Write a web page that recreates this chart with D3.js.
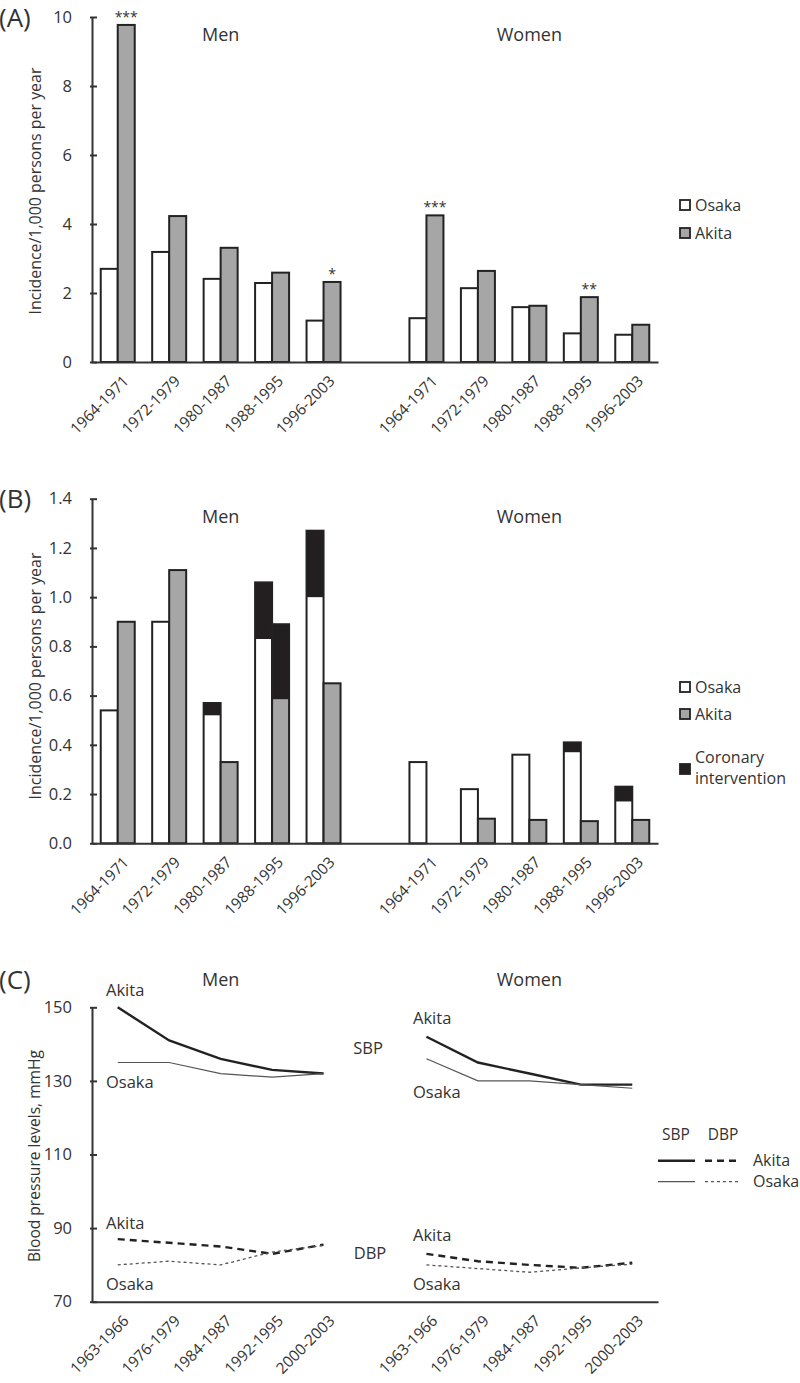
<!DOCTYPE html>
<html>
<head>
<meta charset="utf-8">
<script src="https://cdn.jsdelivr.net/npm/d3@7"></script>
<style>
  body { margin: 0; background: #fff; }
  svg { display: block; }
  text { font-family: "Open Sans", "DejaVu Sans", sans-serif; fill: #333; }
</style>
</head>
<body>
<svg id="chart" width="800" height="1383"></svg>
<script>
// ---------- DATA ----------
const periods = ["1964-1971", "1972-1979", "1980-1987", "1988-1995", "1996-2003"];
const bpPeriods = ["1963-1966", "1976-1979", "1984-1987", "1992-1995", "2000-2003"];

// Panel A: incidence / 1,000 persons per year
const aMenOsaka   = [2.70, 3.19, 2.41, 2.29, 1.20];
const aMenAkita   = [9.77, 4.23, 3.31, 2.59, 2.32];
const aWomenOsaka = [1.27, 2.14, 1.59, 0.83, 0.79];
const aWomenAkita = [4.25, 2.64, 1.63, 1.88, 1.08];
const aMenSig     = ["***", "", "", "", "*"];
const aWomenSig   = ["***", "", "", "**", ""];
const aTicks = [0, 2, 4, 6, 8, 10];

// Panel B: incidence (base) + coronary intervention (extra)
const bMenOsaka      = [0.54, 0.90, 0.52, 0.83, 1.00];
const bMenOsakaPCI   = [0.00, 0.00, 0.05, 0.23, 0.27];
const bMenAkita      = [0.90, 1.11, 0.33, 0.585, 0.65];
const bMenAkitaPCI   = [0.00, 0.00, 0.00, 0.305, 0.00];
const bWomenOsaka    = [0.33, 0.22, 0.36, 0.37, 0.17];
const bWomenOsakaPCI = [0.00, 0.00, 0.00, 0.04, 0.06];
const bWomenAkita    = [0.00, 0.10, 0.095, 0.09, 0.095];
const bWomenAkitaPCI = [0.00, 0.00, 0.00, 0.00, 0.00];
const bTicks = [0, 0.2, 0.4, 0.6, 0.8, 1.0, 1.2, 1.4];

// Panel C: blood pressure levels (mmHg)
const sbpMenAkita   = [150, 141, 136, 133, 132];
const sbpMenOsaka   = [135, 135, 132, 131, 132];
const sbpWomenAkita = [142, 135, 132, 129, 129];
const sbpWomenOsaka = [136, 130, 130, 129, 128];
const dbpMenAkita   = [87, 86, 85, 83, 85.5];
const dbpMenOsaka   = [80, 81, 80, 83.5, 85.3];
const dbpWomenAkita = [83, 81, 80, 79.2, 80.6];
const dbpWomenOsaka = [80, 79, 78, 79.2, 80.2];
const cTicks = [70, 90, 110, 130, 150];

// ---------- LAYOUT ----------
const svg = d3.select("#chart");
const AX = 92, AXR = 658;
const GRAY = "#a6a6a6", BLACK = "#231f20", AXC = "#333";
const halfBar = 17;

function keysFor(list) {
  return list.map(d => "M" + d).concat(["gap"], list.map(d => "W" + d));
}
function bandX(list) {
  return d3.scaleBand().domain(keysFor(list)).range([AX, AXR]).paddingInner(0).paddingOuter(0);
}
function center(x, key) { return x(key) + x.bandwidth() / 2; }

// fit a text element's font size so its rendered length matches a target
function fitLen(sel, base, target) {
  sel.each(function () {
    const t = d3.select(this);
    t.style("font-size", base + "px");
    const len = this.getComputedTextLength();
    if (len > 0) t.style("font-size", (base * target / len).toFixed(2) + "px");
  });
}

function drawYAxis(y, ticks, fmt) {
  const g = svg.append("g").attr("transform", `translate(${AX},0)`)
    .call(d3.axisLeft(y).tickValues(ticks).tickFormat(fmt).tickSizeInner(-5).tickSizeOuter(0).tickPadding(20));
  g.select(".domain").attr("stroke", AXC).attr("stroke-width", 2);
  g.selectAll(".tick line").attr("stroke", AXC).attr("stroke-width", 2).attr("x1", -2);
  g.selectAll(".tick text").style("font-size", "16.5px").attr("fill", "#333");
  return g;
}
function drawXAxis(x, y0) {
  const g = svg.append("g").attr("transform", `translate(0,${y0})`)
    .call(d3.axisBottom(x).tickSize(0).tickFormat(k => k === "gap" ? "" : k.slice(1)));
  g.select(".domain").attr("stroke", AXC).attr("stroke-width", 2);
  const t = g.selectAll(".tick text")
    .attr("fill", "#333")
    .attr("text-anchor", "end")
    .attr("dy", null).attr("y", null)
    .attr("transform", "translate(3,11) rotate(-45)")
    .attr("dominant-baseline", "hanging");
  fitLen(t.filter(d => d !== "gap"), 15.5, 75);
  return g;
}
function yTitle(text, cy, target) {
  const t = svg.append("text").attr("transform", `translate(35,${cy}) rotate(-90)`)
    .attr("text-anchor", "middle").attr("dy", "0.35em").text(text);
  fitLen(t, 16, target);
}
function label(text, x, y, size, anchor) {
  return svg.append("text").attr("x", x).attr("y", y).attr("dy", "0.35em")
    .style("font-size", size + "px").attr("text-anchor", anchor || "start").text(text);
}
function legendBox(x, y, fill, text) {
  svg.append("rect").attr("x", x).attr("y", y).attr("width", 10).attr("height", 10)
    .attr("fill", fill).attr("stroke", "#222").attr("stroke-width", 1.8);
  if (text) label(text, x + 15, y + 5, 16);
}

// ---------- PANEL A ----------
{
  const x = bandX(periods);
  const y = d3.scaleLinear().domain([0, 10]).range([362, 17]);
  const groups = [
    { pre: "M", os: aMenOsaka, ak: aMenAkita, sig: aMenSig },
    { pre: "W", os: aWomenOsaka, ak: aWomenAkita, sig: aWomenSig }
  ];
  groups.forEach(gr => {
    periods.forEach((p, i) => {
      const c = center(x, gr.pre + p);
      svg.append("rect").attr("x", c - halfBar).attr("width", halfBar)
        .attr("y", y(gr.os[i])).attr("height", y(0) - y(gr.os[i]))
        .attr("fill", "#fff").attr("stroke", "#222").attr("stroke-width", 2);
      svg.append("rect").attr("x", c).attr("width", halfBar)
        .attr("y", y(gr.ak[i])).attr("height", y(0) - y(gr.ak[i]))
        .attr("fill", GRAY).attr("stroke", "#222").attr("stroke-width", 2);
      if (gr.sig[i]) {
        svg.append("text").attr("x", c + halfBar / 2).attr("y", y(gr.ak[i]) - 3)
          .attr("text-anchor", "middle").style("font-size", "14px").attr("fill", "#555").text(gr.sig[i]);
      }
    });
  });
  drawYAxis(y, aTicks, d3.format("d"));
  drawXAxis(x, y(0));
  yTitle("Incidence/1,000 persons per year", 191, 247);
  label("(A)", -1, 18, 26);
  label("Men", center(x, "M" + periods[2]), 35, 18, "middle");
  label("Women", center(x, "W" + periods[2]), 35, 18, "middle");
  legendBox(680, 200, "#fff", "Osaka");
  legendBox(680, 228, GRAY, "Akita");
}

// ---------- PANEL B ----------
{
  const x = bandX(periods);
  const y = d3.scaleLinear().domain([0, 1.4]).range([843.3, 498.7]);
  const groups = [
    { pre: "M", os: bMenOsaka, osP: bMenOsakaPCI, ak: bMenAkita, akP: bMenAkitaPCI },
    { pre: "W", os: bWomenOsaka, osP: bWomenOsakaPCI, ak: bWomenAkita, akP: bWomenAkitaPCI }
  ];
  groups.forEach(gr => {
    periods.forEach((p, i) => {
      const c = center(x, gr.pre + p);
      const bars = [
        { x0: c - halfBar, base: gr.os[i], pci: gr.osP[i], fill: "#fff" },
        { x0: c, base: gr.ak[i], pci: gr.akP[i], fill: GRAY }
      ];
      bars.forEach(b => {
        const total = b.base + b.pci;
        if (total <= 0) return;
        svg.append("rect").attr("x", b.x0).attr("width", halfBar)
          .attr("y", y(b.base)).attr("height", y(0) - y(b.base))
          .attr("fill", b.fill).attr("stroke", "none");
        if (b.pci > 0) {
          svg.append("rect").attr("x", b.x0).attr("width", halfBar)
            .attr("y", y(total)).attr("height", y(b.base) - y(total))
            .attr("fill", BLACK).attr("stroke", "none");
        }
        svg.append("rect").attr("x", b.x0).attr("width", halfBar)
          .attr("y", y(total)).attr("height", y(0) - y(total))
          .attr("fill", "none").attr("stroke", "#222").attr("stroke-width", 2);
      });
    });
  });
  drawYAxis(y, bTicks, d3.format(".1f"));
  drawXAxis(x, y(0));
  yTitle("Incidence/1,000 persons per year", 676, 247);
  label("(B)", -1, 499, 26);
  label("Men", center(x, "M" + periods[2]), 517, 18, "middle");
  label("Women", center(x, "W" + periods[2]), 517, 18, "middle");
  legendBox(680, 682, "#fff", "Osaka");
  legendBox(680, 709, GRAY, "Akita");
  legendBox(680, 764, BLACK, null);
  label("Coronary", 695, 757, 16);
  label("intervention", 695, 778, 16);
}

// ---------- PANEL C ----------
{
  const x = bandX(bpPeriods);
  const y = d3.scaleLinear().domain([70, 150]).range([1301.7, 1007.3]);
  const series = [
    { pre: "M", v: sbpMenAkita, w: 2.4, c: "#222", dash: null },
    { pre: "M", v: sbpMenOsaka, w: 1.2, c: "#555", dash: null },
    { pre: "W", v: sbpWomenAkita, w: 2.4, c: "#222", dash: null },
    { pre: "W", v: sbpWomenOsaka, w: 1.2, c: "#555", dash: null },
    { pre: "M", v: dbpMenAkita, w: 2.4, c: "#222", dash: "7,5" },
    { pre: "M", v: dbpMenOsaka, w: 1.3, c: "#555", dash: "3,3" },
    { pre: "W", v: dbpWomenAkita, w: 2.4, c: "#222", dash: "7,5" },
    { pre: "W", v: dbpWomenOsaka, w: 1.3, c: "#555", dash: "3,3" }
  ];
  series.forEach(s => {
    const line = d3.line().x((d, i) => center(x, s.pre + bpPeriods[i])).y(d => y(d));
    svg.append("path").datum(s.v).attr("d", line).attr("fill", "none")
      .attr("stroke", s.c).attr("stroke-width", s.w)
      .attr("stroke-dasharray", s.dash);
  });
  drawYAxis(y, cTicks, d3.format("d"));
  drawXAxis(x, y(70));
  yTitle("Blood pressure levels, mmHg", 1156, 212);
  label("(C)", -1, 980, 26);
  label("Men", center(x, "M" + bpPeriods[2]), 980, 18, "middle");
  label("Women", center(x, "W" + bpPeriods[2]), 980, 18, "middle");
  label("Akita", 106, 990, 16.5);
  label("Osaka", 106, 1082, 16.5);
  label("Akita", 413, 1018, 16.5);
  label("Osaka", 413, 1092, 16.5);
  label("Akita", 106, 1223, 16.5);
  label("Osaka", 106, 1284, 16.5);
  label("Akita", 413, 1235, 16.5);
  label("Osaka", 413, 1284, 16.5);
  label("SBP", 368, 1048, 16.5, "middle");
  label("DBP", 370, 1253, 16.5, "middle");
  // legend
  label("SBP", 676, 1135, 15.5, "middle");
  label("DBP", 723, 1135, 15.5, "middle");
  svg.append("line").attr("x1", 658).attr("x2", 695).attr("y1", 1160.7).attr("y2", 1160.7)
    .attr("stroke", "#222").attr("stroke-width", 2.4);
  svg.append("line").attr("x1", 705).attr("x2", 740).attr("y1", 1160.7).attr("y2", 1160.7)
    .attr("stroke", "#222").attr("stroke-width", 2.4).attr("stroke-dasharray", "7,5");
  svg.append("line").attr("x1", 658).attr("x2", 695).attr("y1", 1181.7).attr("y2", 1181.7)
    .attr("stroke", "#555").attr("stroke-width", 1.2);
  svg.append("line").attr("x1", 705).attr("x2", 740).attr("y1", 1181.7).attr("y2", 1181.7)
    .attr("stroke", "#555").attr("stroke-width", 1.2).attr("stroke-dasharray", "3,3");
  label("Akita", 753, 1160, 16);
  label("Osaka", 753, 1181, 16);
}
</script>
</body>
</html>
